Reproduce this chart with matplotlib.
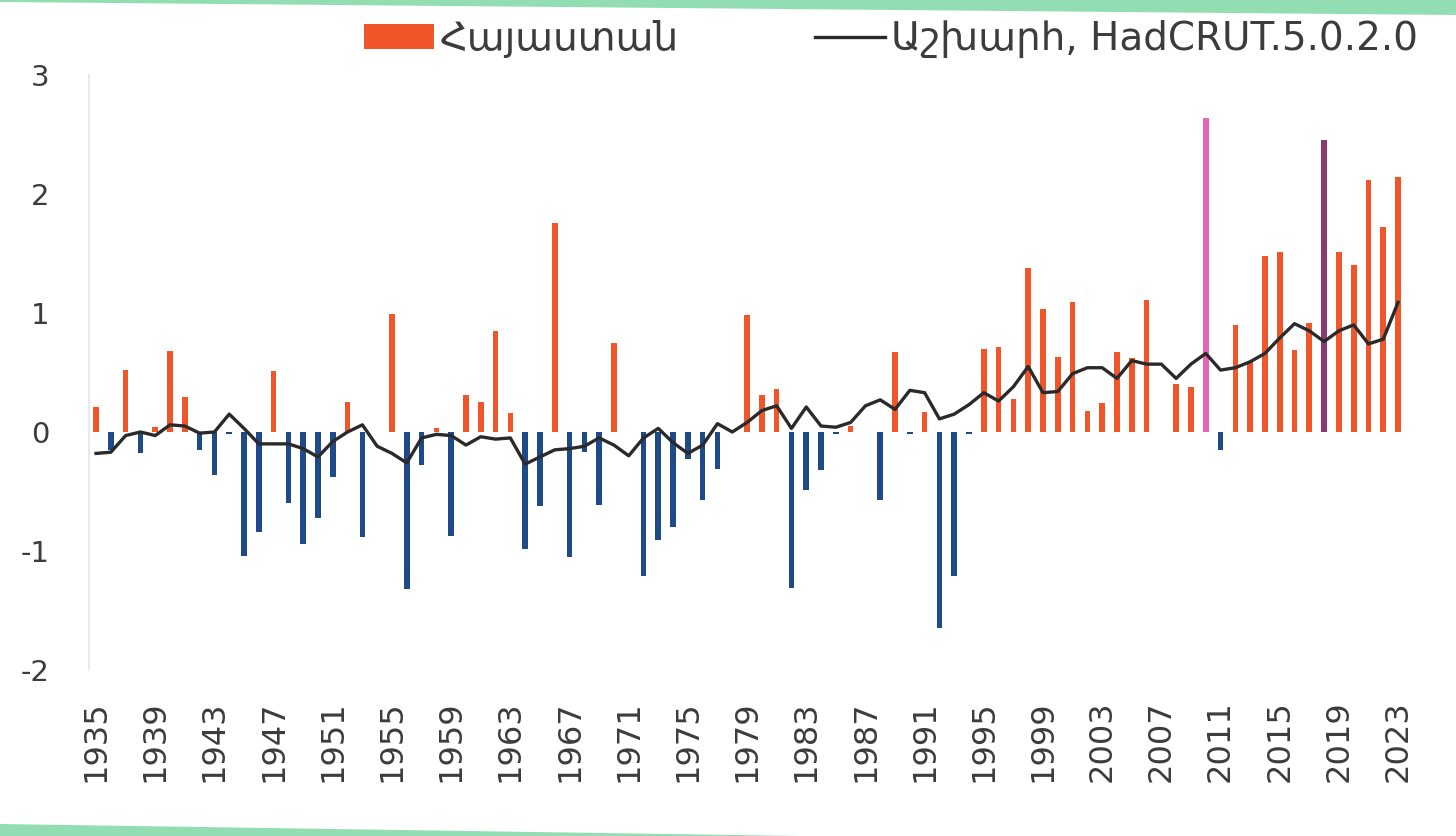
import matplotlib
matplotlib.use("Agg")
import matplotlib.pyplot as plt
from matplotlib.patches import Patch, Polygon
from matplotlib.lines import Line2D

plt.rcParams['font.family'] = ['DejaVu Sans']

# temperature anomalies, degC
years = list(range(1935, 2024))
armenia = [
    0.21, -0.15, 0.52, -0.18, 0.04, 0.68, 0.29, -0.15, -0.36, -0.02,   # 1935-1944
    -1.04, -0.84, 0.51, -0.60, -0.94, -0.72, -0.38, 0.25, -0.88, 0.00,  # 1945-1954
    0.99, -1.32, -0.28, 0.03, -0.87, 0.31, 0.25, 0.85, 0.16, -0.98,     # 1955-1964
    -0.62, 1.76, -1.05, -0.17, -0.61, 0.75, 0.00, -1.21, -0.91, -0.80,  # 1965-1974
    -0.23, -0.57, -0.31, 0.00, 0.98, 0.31, 0.36, -1.31, -0.49, -0.32,   # 1975-1984
    -0.02, 0.05, 0.00, -0.57, 0.67, -0.02, 0.17, -1.65, -1.21, -0.02,   # 1985-1994
    0.70, 0.71, 0.28, 1.38, 1.03, 0.63, 1.09, 0.18, 0.24, 0.67,         # 1995-2004
    0.62, 1.11, 0.00, 0.40, 0.38, 2.64, -0.15, 0.90, 0.59, 1.48,        # 2005-2014
    1.51, 0.69, 0.92, 2.45, 1.51, 1.40, 2.12, 1.72, 2.14,               # 2015-2023
]
world = [
    -0.18, -0.17, -0.03, 0.00, -0.03, 0.06, 0.05, -0.01, 0.00, 0.15,
    0.03, -0.10, -0.10, -0.10, -0.14, -0.21, -0.08, 0.00, 0.06, -0.12,
    -0.18, -0.26, -0.05, -0.02, -0.03, -0.11, -0.04, -0.06, -0.05, -0.27,
    -0.21, -0.15, -0.14, -0.12, -0.05, -0.11, -0.20, -0.05, 0.03, -0.09,
    -0.18, -0.11, 0.07, 0.00, 0.08, 0.18, 0.22, 0.03, 0.21, 0.05,
    0.04, 0.08, 0.22, 0.27, 0.19, 0.35, 0.33, 0.11, 0.15, 0.23,
    0.33, 0.26, 0.38, 0.55, 0.33, 0.34, 0.49, 0.54, 0.54, 0.45,
    0.60, 0.57, 0.57, 0.45, 0.57, 0.66, 0.52, 0.54, 0.59, 0.66,
    0.79, 0.91, 0.85, 0.76, 0.85, 0.90, 0.74, 0.78, 1.09,
]
tick_years = years[::4]
yticks = [-2, -1, 0, 1, 2, 3]

label_armenia = 'Հայաստան'
label_world = 'Աշխարհ, HadCRUT.5.0.2.0'

warm = '#f0562a'
cold = '#1f4a8a'
special = {2010: '#e864b4', 2018: '#8a3a72'}
colors = [special.get(y, warm if v >= 0 else cold) for y, v in zip(years, armenia)]
text_col = '#3c3c3c'

fig = plt.figure(figsize=(14.56, 8.36), dpi=100)
ax = fig.add_axes([0.0609, 0.1986, 0.9044, 0.7117])

ax.bar(years, armenia, width=0.38, color=colors, zorder=2)
ax.plot(years, world, color='#2a2a2a', lw=2.4, zorder=3)

ax.set_xlim(1934.5, 2023.5)
ax.set_ylim(-2, 3)
ax.set_yticks(yticks)
ax.set_yticklabels([str(t) for t in yticks])
ax.set_xticks(tick_years)
ax.set_xticklabels([str(y) for y in tick_years], rotation=90)
ax.tick_params(axis='y', length=0, pad=28, labelsize=21, labelcolor=text_col)
ax.tick_params(axis='x', length=0, pad=22, labelsize=23, labelcolor=text_col)

for s in ['top', 'right', 'bottom']:
    ax.spines[s].set_visible(False)
ax.spines['left'].set_color('#e4e8ea')
ax.spines['left'].set_linewidth(1.2)

handles = [Patch(facecolor=warm, edgecolor='none'),
           Line2D([0], [0], color='#2a2a2a', lw=2.4)]
fig.legend(handles, [label_armenia, label_world], loc='center',
           bbox_to_anchor=(0.612, 0.953), ncol=2, frameon=False,
           fontsize=28, labelcolor=text_col, handlelength=1.8,
           handleheight=0.64, handletextpad=0.15, columnspacing=3.5)

# green frame edges of the photographed slide
band = '#92deb2'
fig.patches.append(Polygon([(0, 1), (1, 1), (1, 1 - 15 / 836), (0, 1 - 2 / 836)],
                           closed=True, transform=fig.transFigure,
                           facecolor=band, edgecolor='none'))
fig.patches.append(Polygon([(0, 0), (0, 12 / 836), (0.55, 0)],
                           closed=True, transform=fig.transFigure,
                           facecolor=band, edgecolor='none'))

fig.savefig('out.png', dpi=100)
